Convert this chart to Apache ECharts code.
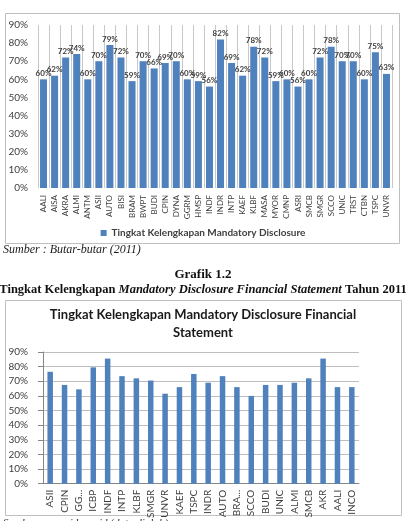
<!DOCTYPE html>
<html>
<head>
<meta charset="utf-8">
<script src="https://cdn.jsdelivr.net/npm/echarts@6/dist/echarts.min.js"></script>
<style>
  html, body { margin: 0; padding: 0; background: #fff; }
  #chart { width: 406px; height: 521px; }
</style>
</head>
<body>
<div id="chart"></div>
<script>
// Grafik 1.1 - data Butar-butar (2011)
const kodeAtas = ['AALI', 'AISA', 'AKRA', 'ALMI', 'ANTM', 'ASII', 'AUTO', 'BISI', 'BRAM', 'BWPT', 'BUDI', 'CPIN',
  'DYNA', 'GGRM', 'HMSP', 'INDF', 'INDR', 'INTP', 'KAEF', 'KLBF', 'MASA', 'MYOR', 'CMNP', 'ASRI', 'SMCB', 'SMGR',
  'SCCO', 'UNIC', 'TRST', 'CTBN', 'TSPC', 'UNVR'];
const nilaiAtas = [60, 62, 72, 74, 60, 70, 79, 72, 59, 70, 66, 69, 70, 60, 59, 56, 82, 69, 62, 78, 72, 59, 60, 56,
  60, 72, 78, 70, 70, 60, 75, 63];

// Grafik 1.2 - tahun 2011
const kodeBawah = ['ASII', 'CPIN', 'GG...', 'ICBP', 'INDF', 'INTP', 'KLBF', 'SMGR', 'UNVR', 'KAEF', 'TSPC', 'INDR',
  'AUTO', 'BRA...', 'SCCO', 'BUDI', 'UNIC', 'ALMI', 'SMCB', 'AKR', 'AALI', 'INCO'];
const nilaiBawah = [76.5, 67.5, 64.5, 79.5, 85.5, 73.5, 72, 70.5, 61.5, 66, 75, 69, 73.5, 66, 60, 67.5, 67.5, 69,
  72, 85.5, 66, 66];

const namaSeri = 'Tingkat Kelengkapan Mandatory Disclosure';
const biru = '#4F81BD';
const sans = 'Lato, "Liberation Sans", sans-serif';
const serif = '"Liberation Serif", "DejaVu Serif", serif';

const chart = echarts.init(document.getElementById('chart'));

chart.setOption({
  animation: false,
  legend: {
    data: [namaSeri],
    left: 'center',
    top: 223,
    icon: 'rect',
    itemWidth: 6,
    itemHeight: 6,
    itemGap: 4,
    textStyle: { fontFamily: sans, fontSize: 10, fontWeight: 'bold', color: '#404040' }
  },
  grid: [
    { left: 38, right: 14, top: 25, height: 163 },
    { left: 43, right: 47, top: 352, height: 132 }
  ],
  xAxis: [
    {
      gridIndex: 0, type: 'category', data: kodeAtas,
      axisLine: { show: false }, axisTick: { show: false },
      axisLabel: { interval: 0, rotate: 90, fontFamily: sans, fontSize: 8, color: '#404040', margin: 7 },
      splitLine: { show: true, interval: 0, lineStyle: { color: '#c8c8c8', width: 1 } }
    },
    {
      gridIndex: 1, type: 'category', data: kodeBawah,
      axisLine: { lineStyle: { color: '#868686' } },
      axisTick: { interval: 0, length: 4, lineStyle: { color: '#868686' } },
      axisLabel: { interval: 0, rotate: 90, fontFamily: sans, fontSize: 10, color: '#404040', margin: 6 }
    }
  ],
  yAxis: [
    {
      gridIndex: 0, type: 'value', min: 0, max: 90, interval: 10,
      axisLine: { show: false }, axisTick: { show: false }, splitLine: { show: false },
      axisLabel: { formatter: '{value}%', fontFamily: sans, fontSize: 10, color: '#404040', margin: 10 }
    },
    {
      gridIndex: 1, type: 'value', min: 0, max: 90, interval: 10,
      axisLine: { show: true, lineStyle: { color: '#868686' } },
      axisTick: { show: true, length: 5, lineStyle: { color: '#868686' } },
      splitLine: { lineStyle: { color: '#bdbdbd' } },
      axisLabel: { formatter: '{value}%', fontFamily: sans, fontSize: 10, color: '#404040', margin: 15 }
    }
  ],
  series: [
    {
      name: namaSeri, type: 'bar', xAxisIndex: 0, yAxisIndex: 0,
      data: nilaiAtas, barWidth: 7, itemStyle: { color: biru },
      label: {
        show: true, position: 'top', distance: 2, formatter: '{c}%',
        fontFamily: sans, fontSize: 8, fontWeight: 'bold', color: '#404040'
      }
    },
    {
      name: 'Tingkat Kelengkapan Mandatory Disclosure Financial Statement', type: 'bar',
      xAxisIndex: 1, yAxisIndex: 1,
      data: nilaiBawah, barWidth: 5.5, itemStyle: { color: biru }
    }
  ],
  graphic: [
    // bingkai grafik
    { type: 'rect', shape: { x: 5.5, y: 13.5, width: 394, height: 230 }, z: -1,
      style: { fill: 'none', stroke: '#bfbfbf', lineWidth: 1 } },
    { type: 'rect', shape: { x: 5.5, y: 300.5, width: 396, height: 215 }, z: -1,
      style: { fill: 'none', stroke: '#bfbfbf', lineWidth: 1 } },
    { type: 'text', left: 3, top: 244,
      style: { text: 'Sumber : Butar-butar (2011)', font: 'italic 12px ' + serif, fill: '#1a1a1a' } },
    { type: 'text', left: 'center', top: 268,
      style: { text: 'Grafik 1.2', font: 'bold 13px ' + serif, fill: '#111' } },
    { type: 'text', left: 'center', top: 283,
      style: {
        text: '{a|Tingkat Kelengkapan }{b|Mandatory Disclosure Financial Statement}{a| Tahun 2011}',
        rich: {
          a: { font: 'bold 12.5px ' + serif, fill: '#111' },
          b: { font: 'italic bold 12.5px ' + serif, fill: '#111' }
        }
      } },
    { type: 'text', left: 'center', top: 308,
      style: { text: 'Tingkat Kelengkapan Mandatory Disclosure Financial', font: 'bold 13px ' + sans, fill: '#1a1a1a' } },
    { type: 'text', left: 'center', top: 326,
      style: { text: 'Statement', font: 'bold 13px ' + sans, fill: '#1a1a1a' } },
    { type: 'text', left: 3, top: 518,
      style: { text: 'Sumber : www.idx.co.id (data diolah)', font: 'italic 11px ' + serif, fill: '#333' } }
  ]
});
</script>
</body>
</html>
